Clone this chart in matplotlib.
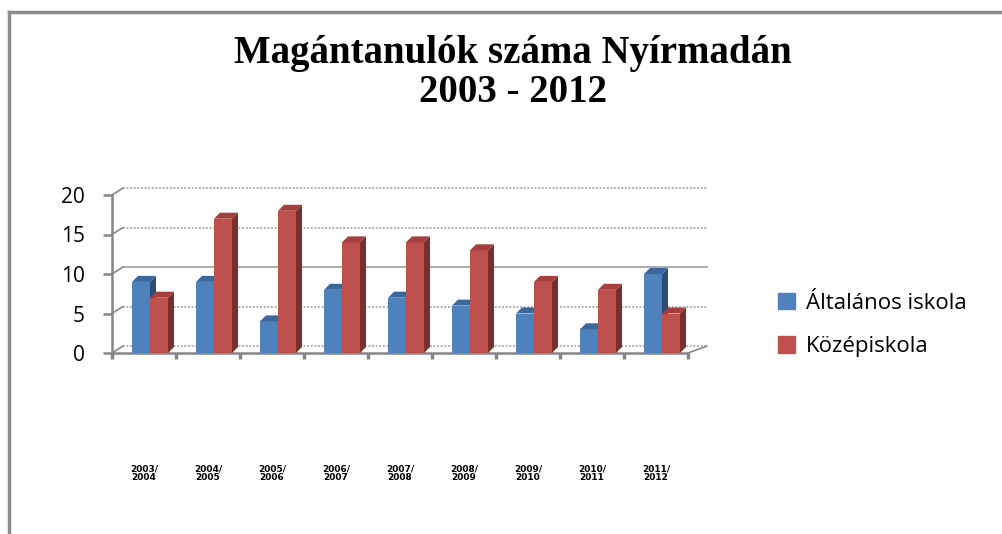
import matplotlib
matplotlib.use("Agg")
import matplotlib.pyplot as plt
import matplotlib.transforms as mtransforms
from matplotlib.patches import Polygon, Patch

# ------------------------------------------------------------------
# data
# ------------------------------------------------------------------
years = ["2003/\n2004", "2004/\n2005", "2005/\n2006", "2006/\n2007", "2007/\n2008",
         "2008/\n2009", "2009/\n2010", "2010/\n2011", "2011/\n2012"]
altalanos = [9, 9, 4, 8, 7, 6, 5, 3, 10]
kozep = [7, 17, 18, 14, 14, 13, 9, 8, 5]
series_names = ["Általános iskola", "Középiskola"]
yticks = [0, 5, 10, 15, 20]

# colours (front, side, top)
BLUE = ("#4F81BD", "#2C4D75", "#3C679C")
RED = ("#C0504D", "#7A2F2D", "#A3403D")
GRID = "#A6A6A6"
AXIS = "#868686"

W, H = 1002, 534
fig = plt.figure(figsize=(W / 100, H / 100), dpi=100)

# outer frame (top and left edge only visible)
fig.add_artist(plt.Line2D([9 / W, 1], [1 - 12 / H, 1 - 12 / H], color="#8C8C8C", lw=2.5,
                          transform=fig.transFigure))
fig.add_artist(plt.Line2D([9 / W, 9 / W], [0, 1 - 12 / H], color="#8C8C8C", lw=2.5,
                          transform=fig.transFigure))

ax = fig.add_axes([112 / W, (H - 353) / H, 576 / W, 158 / H])
ax.set_xlim(-0.5, len(years) - 0.5)
ax.set_ylim(0, 20)
ax.patch.set_visible(False)

# pixel -> data helpers for the fake 3d depth
px_x = 576 / len(years)
px_y = 158 / 20
dx, dy = 6 / px_x, 6 / px_y
bw = 18 / px_x

# back wall gridlines (shifted up/right)
back = ax.transData + mtransforms.ScaledTranslation(11 / 100, 7 / 100, fig.dpi_scale_trans)
for v in yticks:
    ls = "-" if v == 10 else (0, (1, 1))
    ax.plot([-0.5, len(years) - 0.5 + 8 / px_x], [v, v], color=GRID, lw=1.3, ls=ls,
            transform=back, clip_on=False, zorder=1)
    # little diagonal from the front axis to the wall
    ax.annotate("", xy=(-0.5, v), xycoords=back, xytext=(-0.5, v), textcoords="data",
                arrowprops=dict(arrowstyle="-", color=AXIS, lw=1.2, shrinkA=0, shrinkB=0))
ax.annotate("", xy=(len(years) - 0.5 + 8 / px_x, 0), xycoords=back,
            xytext=(len(years) - 0.5, 0), textcoords="data",
            arrowprops=dict(arrowstyle="-", color=AXIS, lw=1.2, shrinkA=0, shrinkB=0))


def bar3d(x0, v, cols, z):
    ax.bar(x0, v, width=bw, align="edge", color=cols[0], lw=0, zorder=z)
    x1 = x0 + bw
    side = Polygon([(x1, 0), (x1, v), (x1 + dx, v + dy), (x1 + dx, dy)],
                   closed=True, facecolor=cols[1], lw=0, zorder=z, clip_on=False)
    top = Polygon([(x0, v), (x1, v), (x1 + dx, v + dy), (x0 + dx, v + dy)],
                  closed=True, facecolor=cols[2], lw=0, zorder=z, clip_on=False)
    ax.add_patch(side)
    ax.add_patch(top)


for i in range(len(years)):
    xb = i - 0.5 + 20 / px_x
    bar3d(xb, altalanos[i], BLUE, 3)
    bar3d(xb + bw, kozep[i], RED, 4)

# axes styling
for s in ["top", "right"]:
    ax.spines[s].set_visible(False)
for s in ["left", "bottom"]:
    ax.spines[s].set_color(AXIS)
    ax.spines[s].set_linewidth(1.8)
ax.set_yticks(yticks)
ax.set_yticklabels([str(v) for v in yticks], fontsize=15, family="Open Sans")
ax.tick_params(axis="y", length=6.5, width=1.8, color=AXIS, pad=13)
ax.set_xticks([i - 0.5 for i in range(len(years) + 1)])
ax.set_xticklabels([])
ax.tick_params(axis="x", length=4.5, width=2.5, color=AXIS)

# category labels far below the axis
lab_tr = mtransforms.blended_transform_factory(ax.transData, fig.transFigure)
for i, y in enumerate(years):
    ax.text(i, 1 - 473 / H, y, transform=lab_tr, ha="center", va="center",
            fontsize=6.5, fontweight="bold", linespacing=0.9)

# title
fig.text(513 / W, 1 - 63 / H, "Magántanulók száma Nyírmadán", ha="center", va="baseline",
         fontsize=28, fontweight="bold", family="Liberation Serif")
fig.text(513 / W, 1 - 102 / H, "2003 - 2012", ha="center", va="baseline",
         fontsize=28, fontweight="bold", family="Liberation Serif")

# legend
handles = [Patch(color=BLUE[0]), Patch(color=RED[0])]
fig.legend(handles, series_names, loc="center left", bbox_to_anchor=(767 / W, 1 - 325 / H),
           frameon=False, handlelength=0.75, handleheight=0.75, handletextpad=0.5,
           labelspacing=1.0, borderpad=0, prop=dict(family="Open Sans", size=16))

fig.savefig("out.png", dpi=100)
